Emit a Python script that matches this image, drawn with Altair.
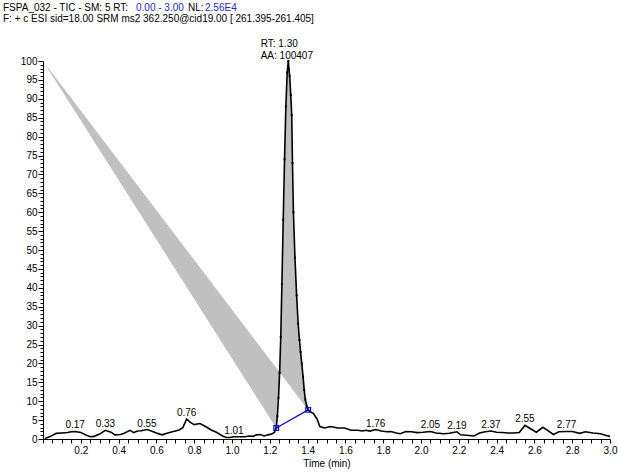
import altair as alt
import pandas as pd

# --- chromatogram trace: retention time (min) vs relative abundance (%) ---
pre_rt = [0.01, 0.04, 0.07, 0.10, 0.13, 0.15, 0.17, 0.20, 0.23, 0.25, 0.27, 0.30,
          0.33, 0.36, 0.38, 0.41, 0.43, 0.46, 0.48, 0.50, 0.52, 0.55, 0.57, 0.60,
          0.63, 0.66, 0.69, 0.72, 0.74, 0.76, 0.78, 0.80, 0.83, 0.86, 0.89, 0.92,
          0.95, 0.97, 0.99, 1.01, 1.04, 1.07, 1.09, 1.11, 1.13, 1.15, 1.17, 1.19,
          1.21, 1.225]
pre_int = [0.1, 0.7, 1.5, 1.6, 1.7, 1.9, 2.0, 1.7, 1.0, 0.6, 0.7, 1.3,
           2.3, 1.8, 1.1, 1.2, 1.5, 2.3, 1.7, 2.1, 2.2, 2.5, 2.2, 1.6,
           1.1, 1.6, 2.0, 2.4, 3.0, 5.3, 4.4, 3.8, 4.1, 3.3, 2.4, 1.7,
           0.8, 0.4, 0.4, 0.6, 0.6, 0.6, 0.8, 0.7, 1.1, 1.2, 0.8, 1.1,
           1.3, 1.8]

# integrated peak (start and end points carry the baseline)
peak_rt = [1.234, 1.240, 1.246, 1.252, 1.258, 1.264, 1.271, 1.278, 1.285, 1.292,
           1.298, 1.305, 1.311, 1.316, 1.320, 1.325, 1.333, 1.342, 1.350, 1.357,
           1.363, 1.369, 1.376, 1.382, 1.388, 1.395, 1.403]
peak_int = [2.9, 6.0, 10.9, 17.5, 27.0, 41.0, 58.0, 74.0, 88.0, 97.0,
            100.0, 96.0, 91.0, 85.7, 73.0, 60.0, 48.0, 38.0, 30.5, 26.2,
            23.0, 20.0, 16.5, 13.0, 10.4, 8.8, 7.7]

post_rt = [1.41, 1.43, 1.45, 1.465, 1.49, 1.52, 1.56, 1.595, 1.63, 1.665, 1.69,
           1.71, 1.73, 1.76, 1.79, 1.82, 1.84, 1.87, 1.89, 1.92, 1.95, 1.98,
           2.01, 2.05, 2.08, 2.12, 2.15, 2.19, 2.21, 2.24, 2.28, 2.31, 2.34,
           2.37, 2.40, 2.43, 2.46, 2.49, 2.52, 2.55, 2.58, 2.61, 2.645, 2.67,
           2.70, 2.73, 2.77, 2.80, 2.84, 2.87, 2.91, 2.95, 2.98, 3.00]
post_int = [7.3, 6.8, 5.3, 3.3, 2.9, 3.3, 2.9, 2.9, 2.3, 2.3, 2.1,
            2.3, 2.1, 2.5, 2.1, 1.9, 2.0, 1.6, 1.4, 2.0, 1.9, 1.7,
            1.8, 2.0, 1.6, 1.4, 1.5, 1.9, 1.1, 1.0, 0.8, 1.6, 1.9,
            2.1, 1.8, 1.7, 1.6, 1.6, 1.7, 3.6, 2.7, 1.8, 3.1, 2.3,
            1.2, 1.9, 2.0, 2.0, 1.5, 1.9, 1.6, 1.4, 0.9, 0.7]

# labelled apex retention times and their intensities
label_rt = [0.17, 0.33, 0.55, 0.76, 1.01, 1.76, 2.05, 2.19, 2.37, 2.55, 2.77]
label_int = [2.0, 2.3, 2.5, 5.3, 0.6, 2.5, 2.0, 1.9, 2.1, 3.6, 2.0]

# integration polygon anchor point
fill_anchor_rt = [0.0]
fill_anchor_int = [100.0]

apex_rt = 1.30
apex_int = 100.0
apex_area = 100407

FONT = "Liberation Sans"
BLUE = "#2323c8"

trace = pd.DataFrame({"rt": pre_rt + peak_rt + post_rt,
                      "ab": pre_int + peak_int + post_int})
trace["i"] = range(len(trace))
peak = pd.DataFrame({"rt": peak_rt, "ab": peak_int})
poly = pd.DataFrame({"rt": fill_anchor_rt + peak_rt,
                     "ab": fill_anchor_int + peak_int})
poly["i"] = range(len(poly))
base_line = pd.DataFrame({"rt": [peak_rt[0], peak_rt[-1]],
                          "ab": [peak_int[0], peak_int[-1]]})
labels = pd.DataFrame({"rt": label_rt, "ab": label_int})
apex = pd.DataFrame({"rt": [apex_rt], "ab": [apex_int],
                     "rt_txt": [f"RT: {apex_rt:.2f}"],
                     "aa_txt": [f"AA: {apex_area}"]})

x_ticks = [round(i * 0.05, 2) for i in range(61)]
y_ticks = list(range(0, 101))

x_axis = alt.Axis(
    values=x_ticks,
    labelExpr="datum.value > 0.01 && abs(datum.value * 5 - round(datum.value * 5)) < 0.001 ? format(datum.value, '.1f') : ''",
    ticks=True, tickSize=4, tickColor="black", domainColor="black", tickWidth=1,
    labelFont=FONT, labelFontSize=10, labelColor="black", labelPadding=2,
    labelOverlap=False, labelFlush=False, grid=False,
    title="Time (min)", titleFont=FONT, titleFontSize=10,
    titleFontWeight="normal", titleColor="black", titlePadding=3,
)
y_axis = alt.Axis(
    values=y_ticks,
    labelExpr="datum.value % 5 === 0 ? datum.label : ''",
    ticks=True,
    tickSize={"condition": {"test": "datum.value % 5 === 0", "value": 5}, "value": 3},
    tickColor="black", domainColor="black", tickWidth=1,
    labelFont=FONT, labelFontSize=10, labelColor="black", labelPadding=1,
    labelOverlap=False, grid=False, title=None,
)

xs = alt.Scale(domain=[0, 3], nice=False, zero=False)
ys = alt.Scale(domain=[0, 100], nice=False, zero=False)

# every data layer carries the same axis definition so the merged axes agree
X = alt.X("rt:Q", scale=xs, axis=x_axis)
Y = alt.Y("ab:Q", scale=ys, axis=y_axis)

fill_layer = alt.Chart(poly).mark_line(
    filled=True, fill="#c0c0c0", color="#c0c0c0", strokeWidth=0
).encode(x=X, y=Y, order="i:Q")

baseline_layer = alt.Chart(base_line).mark_line(
    color="#0000ff", strokeWidth=1.2
).encode(x=X, y=Y)

trace_layer = alt.Chart(trace).mark_line(
    color="black", strokeWidth=1.6
).encode(x=X, y=Y, order="i:Q")

dots_layer = alt.Chart(peak).mark_point(
    shape="square", filled=True, size=4, color="black", opacity=1
).encode(x=X, y=Y)

ends_layer = alt.Chart(base_line).mark_point(
    shape="square", filled=False, size=22, color="#0000ff", strokeWidth=1.2, opacity=1
).encode(x=X, y=Y)

label_layer = alt.Chart(labels).mark_text(
    font=FONT, fontSize=10, color="black", align="center", baseline="alphabetic", dy=-3
).encode(x=X, y=Y, text=alt.Text("rt:Q", format=".2f"))

rt_layer = alt.Chart(apex).mark_text(
    font=FONT, fontSize=10, color="black", align="left", baseline="alphabetic", dx=-28, dy=-14
).encode(x=X, y=Y, text="rt_txt:N")
aa_layer = alt.Chart(apex).mark_text(
    font=FONT, fontSize=10, color="black", align="left", baseline="alphabetic", dx=-28, dy=-2.5
).encode(x=X, y=Y, text="aa_txt:N")


def header(txt, x, y, color="black"):
    return alt.Chart(pd.DataFrame({"t": [txt]})).mark_text(
        font=FONT, fontSize=10, color=color, align="left", baseline="alphabetic"
    ).encode(x=alt.value(x), y=alt.value(y), text="t:N")


head = [
    header("FSPA_032 - TIC - SM: 5 RT:", -40, -50),
    header("0.00 - 3.00", 93, -50, BLUE),
    header("NL:", 145, -50),
    header("2.56E4", 162, -50, BLUE),
    header("F: + c ESI sid=18.00  SRM ms2  362.250@cid19.00 [ 261.395-261.405]", -40, -39),
]

chart = alt.layer(
    fill_layer, baseline_layer, trace_layer, dots_layer, ends_layer,
    label_layer, rt_layer, aa_layer, *head
).properties(
    width=567, height=378,
    autosize=alt.AutoSizeParams(type="none"),
    padding={"left": 43, "top": 61, "right": 8, "bottom": 36},
    background="white",
).configure_view(stroke=None)

chart.save("out.html", embed_options={"renderer": "svg", "actions": False})
